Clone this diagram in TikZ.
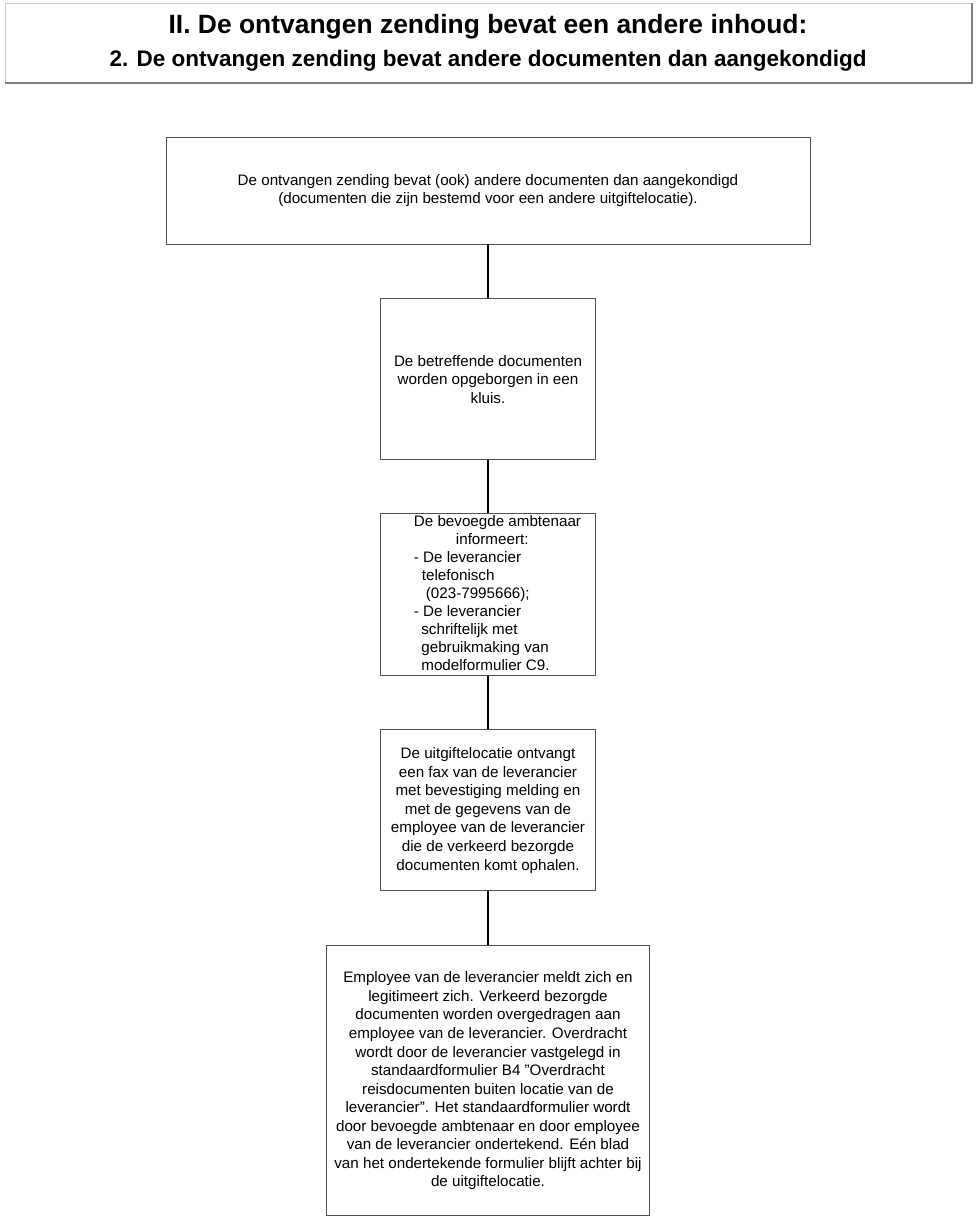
\documentclass[tikz,border=0pt]{standalone}
\usepackage{fontspec}
\setmainfont{Liberation Sans}
\usetikzlibrary{positioning}
\definecolor{framegray}{RGB}{80,80,80}
\definecolor{shadegray}{RGB}{200,200,200}

\begin{document}
\begin{tikzpicture}[
  box/.style={draw=framegray, line width=0.7pt, align=center, inner sep=0pt,
              font=\fontsize{10.8}{13.2}\selectfont},
  ln/.style={line width=1.5pt, black}
]
\useasboundingbox (0,0) rectangle (24.425,-30.475);
% title frame
\draw[shadegray, line width=0.6pt] (0.125,-2.075) -- (0.125,-0.075) -- (24.3,-0.075);
\draw[gray, line width=1pt] (0.125,-2.075) -- (24.3,-2.075) -- (24.3,-0.075);
\node[align=center, font=\bfseries\fontsize{16}{22.8}\selectfont] (title) at (12.2,-1.07) {%
  {\fontsize{18.8}{22.8}\selectfont II. De ontvangen zending bevat een andere inhoud:}\\
  2. De ontvangen zending bevat andere documenten dan aangekondigd};

\node[box, minimum width=16.1cm, minimum height=2.675cm] (melding) at (12.2,-4.7625)
  {De ontvangen zending bevat (ook) andere documenten dan aangekondigd\\
   (documenten die zijn bestemd voor een andere uitgiftelocatie).};
\node[box, minimum width=5.375cm, minimum height=4.025cm, below=1.35cm of melding] (kluis)
  {De betreffende documenten\\worden opgeborgen in een\\kluis.};
\node[box, minimum width=5.375cm, minimum height=4.05cm, below=1.325cm of kluis,
      font=\fontsize{10.8}{12.8}\selectfont] (informeer)
  {\raisebox{1.5pt}{\begin{tabular}{@{}l@{}}
   \hspace*{13.5pt}De bevoegde ambtenaar\\
   \hspace*{43.4pt}informeert:\\
   \hspace*{13.5pt}- De leverancier\\
   \hspace*{19.2pt}telefonisch\\
   \hspace*{22pt}(023-7995666);\\
   \hspace*{13.5pt}- De leverancier\\
   \hspace*{18.8pt}schriftelijk met\\
   \hspace*{18.8pt}gebruikmaking van\\
   \hspace*{18.8pt}modelformulier C9.
   \end{tabular}}};
\node[box, minimum width=5.375cm, minimum height=4.025cm, below=1.325cm of informeer] (fax)
  {De uitgiftelocatie ontvangt\\een fax van de leverancier\\met bevestiging melding en\\
   met de gegevens van de\\employee van de leverancier\\die de verkeerd bezorgde\\
   documenten komt ophalen.};
\node[box, minimum width=8.075cm, minimum height=6.75cm, below=1.35cm of fax] (overdracht)
  {Employee van de leverancier meldt zich en\\legitimeert zich. Verkeerd bezorgde\\
   documenten worden overgedragen aan\\employee van de leverancier. Overdracht\\
   wordt door de leverancier vastgelegd in\\standaardformulier B4 "Overdracht\\
   reisdocumenten buiten locatie van de\\leverancier". Het standaardformulier wordt\\
   door bevoegde ambtenaar en door employee\\van de leverancier ondertekend. Eén blad\\
   van het ondertekende formulier blijft achter bij\\de uitgiftelocatie.};

\draw[ln] (melding) -- (kluis);
\draw[ln] (kluis) -- (informeer);
\draw[ln] (informeer) -- (fax);
\draw[ln] (fax) -- (overdracht);
\end{tikzpicture}
\end{document}
